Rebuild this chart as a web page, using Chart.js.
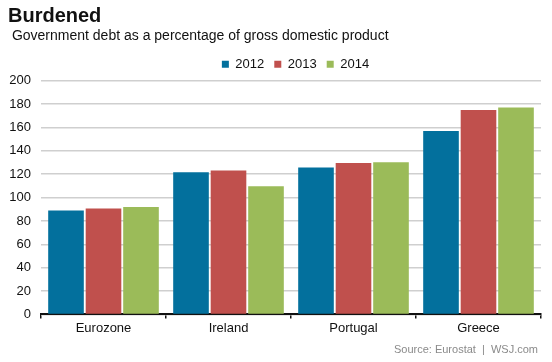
<!DOCTYPE html>
<html>
<head>
<meta charset="utf-8">
<script src="https://cdn.jsdelivr.net/npm/chart.js@4"></script>
<style>
html,body{margin:0;padding:0;background:#fff;}
#wrap{width:552px;height:362px;position:relative;}
</style>
</head>
<body>
<div id="wrap"><canvas id="c" width="552" height="362"></canvas></div>
<script>
const categories = ["Eurozone", "Ireland", "Portugal", "Greece"];
const years = ["2012", "2013", "2014"];
const values2012 = [89.0, 121.7, 125.8, 157.0];
const values2013 = [90.7, 123.3, 129.7, 175.1];
const values2014 = [91.9, 109.7, 130.2, 177.1];
const yTicks = [0, 20, 40, 60, 80, 100, 120, 140, 160, 180, 200];
const colors = ["#03709d", "#c0504d", "#9bbb59"];

const FONT = "'Liberation Sans', Arial, sans-serif";

const sourcePlugin = {
  id: "sourceNote",
  afterLayout(chart) {
    chart.legend.left += 21;
    chart.legend.right += 21;
  },
  afterDraw(chart) {
    const ctx = chart.ctx;
    ctx.save();
    ctx.font = "11px " + FONT;
    ctx.fillStyle = "#8a8a8a";
    ctx.textAlign = "right";
    ctx.textBaseline = "middle";
    ctx.fillText("Source: Eurostat  |  WSJ.com", 538, 350);
    ctx.restore();
  }
};

new Chart(document.getElementById("c"), {
  type: "bar",
  data: {
    labels: categories,
    datasets: [
      { label: years[0], data: values2012, backgroundColor: colors[0] },
      { label: years[1], data: values2013, backgroundColor: colors[1] },
      { label: years[2], data: values2014, backgroundColor: colors[2] }
    ]
  },
  options: {
    responsive: false,
    animation: false,
    devicePixelRatio: 1,
    categoryPercentage: 0.9,
    barPercentage: 0.95,
    layout: { padding: { left: 8, right: 11, top: 4, bottom: 24 } },
    plugins: {
      title: {
        display: true,
        text: "Burdened",
        align: "start",
        color: "#111",
        font: { family: FONT, size: 20, weight: "bold" },
        padding: { top: 0, bottom: 0 }
      },
      subtitle: {
        display: true,
        text: " Government debt as a percentage of gross domestic product",
        align: "start",
        color: "#111",
        font: { family: FONT, size: 14 },
        padding: { top: 0, bottom: 3 }
      },
      legend: {
        display: true,
        position: "top",
        align: "center",
        labels: {
          boxWidth: 7,
          boxHeight: 7,
          padding: 10,
          color: "#111",
          font: { family: FONT, size: 13 }
        }
      },
      tooltip: { enabled: false }
    },
    scales: {
      x: {
        grid: {
          display: true,
          drawOnChartArea: false,
          drawTicks: true,
          tickLength: 4,
          color: "#111",
          lineWidth: 1.5,
          offset: true
        },
        border: { display: true, color: "#111", width: 2 },
        ticks: { color: "#111", font: { family: FONT, size: 13 }, padding: 2 }
      },
      y: {
        min: 0,
        max: 200,
        afterBuildTicks(scale) { scale.ticks = yTicks.map(v => ({ value: v })); },
        afterFit(scale) { scale.width = 33; },
        grid: { color: "#cfcfcf", lineWidth: 1.5, drawTicks: false },
        border: { display: false },
        ticks: { color: "#111", font: { family: FONT, size: 13 }, padding: 10 }
      }
    }
  },
  plugins: [sourcePlugin]
});
</script>
</body>
</html>
